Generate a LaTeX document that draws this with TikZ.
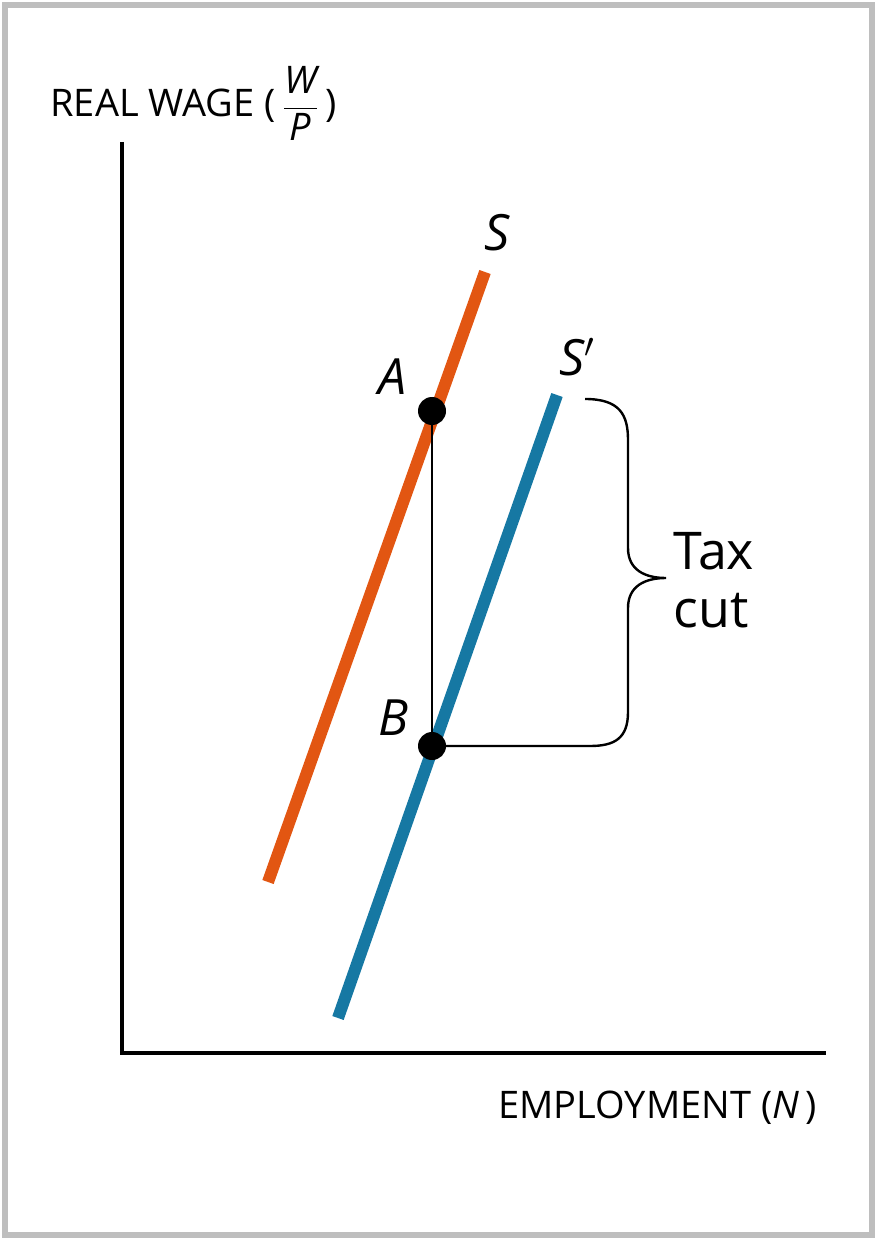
\documentclass[tikz,border=0pt]{standalone}
\usepackage{fontspec}
\setmainfont{Open Sans}
\definecolor{supplyorange}{RGB}{226,86,18}
\definecolor{supplyblue}{RGB}{22,120,163}
\definecolor{framegray}{RGB}{190,190,190}
\tikzset{
  supply/.style={line width=6pt},
  axis/.style={line width=2pt},
  point/.style={circle, fill=black, inner sep=0pt, minimum size=14pt},
  curvelabel/.style={font=\fontsize{25}{30}\selectfont\itshape, inner sep=0pt},
  axislabel/.style={inner sep=0pt}
}
\begin{document}
\begin{tikzpicture}[x=0.5pt,y=-0.5pt]

% Cadre
\useasboundingbox (0,0) rectangle (877,1240);
\draw[framegray, line width=3pt] (5,5) rectangle (872,1235);

% Axes
\coordinate (origin) at (122,1053);
\coordinate (ytop) at (122,142);
\coordinate (xend) at (826,1053);
\draw[axis] (ytop) -- (origin) -- (xend);

\node[axislabel, anchor=base west, font=\fontsize{19}{23}\selectfont] (ylab) at (50,117)
{REAL WAGE (\,$\displaystyle\frac{\textit{W}}{\textit{P}}$\,)};

\node[axislabel, anchor=base west, font=\fontsize{19}{23}\selectfont] (xlab) at (498,1118)
{EMPLOYMENT (\textit{N}\,)};

% Offre S et S'
\coordinate (Slow) at (268,882);
\coordinate (Shigh) at (485,272);
\draw[supply, supplyorange] (Slow) -- (Shigh);

\coordinate (Splow) at (338,1018);
\coordinate (Sphigh) at (557,395);
\draw[supply, supplyblue] (Splow) -- (Sphigh);

\node[curvelabel] (Slab) at (497,233) {S};
\node[curvelabel] (Splab) at (577,357) {S$'$};

% Points A et B
\node[point] (A) at (432,411) {};
\node[point] (B) at (432,746) {};
\draw[line width=1pt] (A) -- (B);

\node[curvelabel] (Alab) at (393,377) {A};
\node[curvelabel] (Blab) at (393,718) {B};

% Accolade
\coordinate (bracetop) at (585,399);
\draw[line width=1.2pt]
(bracetop) .. controls (620,399) and (628,415) .. (628,440)
-- (628,548) .. controls (628,570) and (645,578) .. (666,578)
.. controls (645,578) and (628,586) .. (628,608)
-- (628,712) .. controls (628,738) and (615,746) .. (590,746)
-- (B.center);

\node[anchor=west, align=left, inner sep=0pt, font=\fontsize{26}{29}\selectfont] (taxcut) at (673,580)
{Tax\\cut};

\end{tikzpicture}
\end{document}
